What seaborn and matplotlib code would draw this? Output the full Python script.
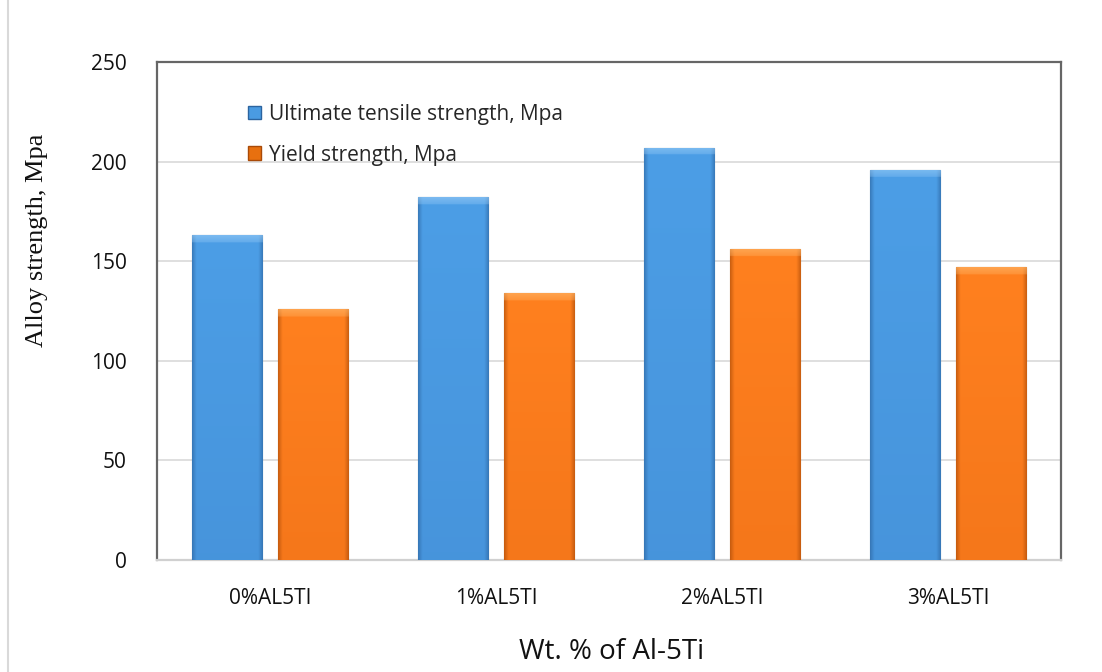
import numpy as np
import pandas as pd
import matplotlib
matplotlib.use("Agg")
import matplotlib.pyplot as plt
import seaborn as sns
from matplotlib.patches import Patch
from matplotlib.colors import to_rgb

categories = ["0%AL5TI", "1%AL5TI", "2%AL5TI", "3%AL5TI"]
uts = [163, 182, 207, 196]
ys = [126, 134, 156, 147]
series = ["Ultimate tensile strength, Mpa", "Yield strength, Mpa"]
yticks = [0, 50, 100, 150, 200, 250]

df = pd.DataFrame({
    "cat": categories * 2,
    "val": uts + ys,
    "series": [series[0]] * 4 + [series[1]] * 4,
})

sns.set_theme(style="white")
plt.rcParams["font.family"] = ["Open Sans", "DejaVu Sans"]

fig = plt.figure(figsize=(11.02, 6.72), dpi=100)
ax = fig.add_axes([157 / 1102, 1 - 560 / 672, (1061 - 157) / 1102, (560 - 62) / 672])

blue = "#4A9BE2"
orange = "#FF7F1F"
sns.barplot(data=df, x="cat", y="val", hue="series", hue_order=series,
            palette=[blue, orange], width=0.76, gap=0.18, ax=ax,
            legend=False, saturation=1, zorder=3)

ax.set_ylim(0, 250)
ax.set_yticks(yticks)
ax.set_xlabel("")
ax.set_ylabel("")
ax.yaxis.grid(True, color="#d9d9d9", linewidth=1.2, zorder=0)
ax.set_axisbelow(True)
ax.tick_params(axis="both", length=0, labelsize=15, colors="#111111")
ax.tick_params(axis="x", pad=20)
ax.tick_params(axis="y", pad=22)
for s in ["left", "top", "right"]:
    ax.spines[s].set_color("#666666")
    ax.spines[s].set_linewidth(1.6)
ax.spines["bottom"].set_color("#d0d0d0")
ax.spines["bottom"].set_linewidth(1.6)


def shade(base, light, dark, edge, h_frac):
    ny, nx = 400, 80
    b = np.array(to_rgb(base))
    lt = np.array(to_rgb(light))
    dk = np.array(to_rgb(dark))
    ed = np.array(to_rgb(edge))
    yy = np.linspace(0, 1, ny)[:, None]  # 0 top, 1 bottom
    xx = np.linspace(0, 1, nx)[None, :]
    img = b[None, None, :] * (1 - 0.3 * yy[..., None]) + dk[None, None, :] * (0.3 * yy[..., None])
    img = np.broadcast_to(img, (ny, nx, 3)).copy()
    side = np.clip(1 - np.minimum(xx, 1 - xx) / 0.06, 0, 1)
    img = img * (1 - 0.6 * side[..., None]) + ed[None, None, :] * (0.6 * side[..., None])
    top = (yy < h_frac).astype(float)
    bev = np.clip(top * (1 - 0.5 * (yy / max(h_frac, 1e-6))), 0, 1)
    bev = np.broadcast_to(bev, (ny, nx))
    img = img * (1 - 0.6 * bev[..., None]) + lt[None, None, :] * (0.6 * bev[..., None])
    return np.clip(img, 0, 1)


for p in ax.patches:
    c = p.get_facecolor()
    x0, y0 = p.get_x(), p.get_y()
    w, h = p.get_width(), p.get_height()
    if h <= 0:
        continue
    isblue = c[2] > c[0]
    frac = 3.5 / h
    if isblue:
        img = shade("#4C9EE6", "#9ACDF7", "#3B7EC4", "#2C649F", frac)
    else:
        img = shade("#FF801F", "#FFBB6E", "#DE6210", "#A94A08", frac)
    im = ax.imshow(img, extent=[x0, x0 + w, y0, y0 + h], aspect="auto",
                   zorder=3.5, interpolation="bilinear")
    im.set_clip_path(p)
    p.set_edgecolor("#2f5f90" if isblue else "#a04a0a")
    p.set_linewidth(0.8)

ax.set_xlim(-0.5, 3.5)
ax.set_ylim(0, 250)

handles = [Patch(facecolor=blue, edgecolor="#2C649F", label=series[0]),
           Patch(facecolor="#E8700F", edgecolor="#A94A08", label=series[1])]
ax.legend(handles=handles, loc="upper left", bbox_to_anchor=(0.089, 0.937),
          frameon=False, fontsize=15, handlelength=0.65, handleheight=0.65,
          handletextpad=0.35, labelspacing=0.95, borderpad=0)

fig.text(612 / 1102, 1 - 652 / 672, "Wt. % of Al-5Ti", ha="center", va="center",
         fontsize=20, color="#111111")
fig.text(37 / 1102, 1 - 240 / 672, "Alloy strength, Mpa", ha="center", va="center",
         rotation=90, fontsize=19, color="#111111", family="Liberation Serif")

fig.add_artist(plt.Line2D([8 / 1102, 8 / 1102], [0, 1], color="#d9d9d9",
                          linewidth=1.5, transform=fig.transFigure))

fig.savefig("out.png", dpi=100)
